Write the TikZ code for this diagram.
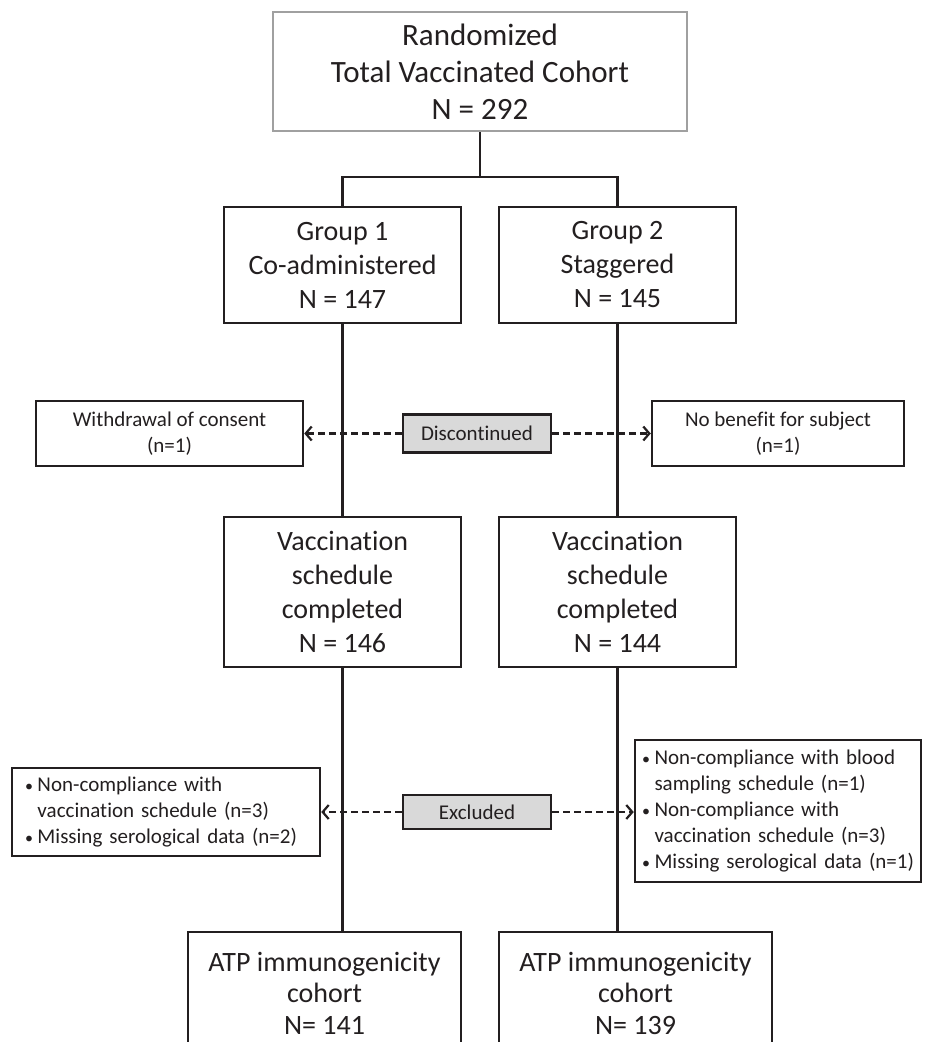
\documentclass[tikz,border=0pt]{standalone}
\usepackage{fontspec}
\setmainfont{Carlito}[Ligatures=NoCommon]
\usetikzlibrary{arrows.meta}
\definecolor{txt}{HTML}{231F20}
\definecolor{edge}{HTML}{231F20}
\definecolor{grayedge}{HTML}{A0A0A0}
\definecolor{labfill}{HTML}{D9D9D9}
\tikzset{
  box/.style={draw=edge, line width=2.5pt, fill=white, text=txt, align=center, inner sep=0pt},
  bigtext/.style={font=\fontsize{28}{34}\selectfont},
  smalltext/.style={font=\fontsize{21}{26}\selectfont},
  label/.style={box, fill=labfill, smalltext},
  link/.style={draw=edge, line width=2.2pt},
  dasharrow/.style={draw=edge, line width=2.4pt, dash pattern=on 7pt off 4pt, -{Straight Barb[length=6pt,width=14pt,line width=2.2pt]}},
}
\newcommand{\bul}{\makebox[12.5pt][l]{{\fontsize{16}{16}\selectfont •}}}
\newcommand{\indt}{\hspace*{12.5pt}}
\begin{document}
\begin{tikzpicture}[x=1pt,y=-1pt]
\useasboundingbox (0,0) rectangle (926,1042);
\clip (0,0) rectangle (926,1042);
% top
\node[box, draw=grayedge, line width=2.5pt, font=\fontsize{31}{37}\selectfont, minimum width=414, minimum height=119] (top) at (480,71.5) {Randomized\\Total Vaccinated Cohort\\N = 292};
% groups
\node[box, bigtext, minimum width=237, minimum height=116] (g1) at (342.5,265) {Group 1\\Co-administered\\N = 147};
\node[box, bigtext, minimum width=237, minimum height=116] (g2) at (617.5,265) {Group 2\\Staggered\\N = 145};
% completed
\node[box, bigtext, minimum width=237, minimum height=150] (c1) at (342.5,592) {Vaccination\\schedule\\completed\\N = 146};
\node[box, bigtext, minimum width=237, minimum height=150] (c2) at (617.5,592) {Vaccination\\schedule\\completed\\N = 144};
% ATP
\node[box, font=\fontsize{28}{31.5}\selectfont, minimum width=273, minimum height=122] (a1) at (324.5,993) {ATP immunogenicity\\cohort\\N= 141};
\node[box, font=\fontsize{28}{31.5}\selectfont, minimum width=273, minimum height=122] (a2) at (635.5,993) {ATP immunogenicity\\cohort\\N= 139};
% connectors
\coordinate (bj) at (480,177);
\draw[link] (top.south) -- (bj);
\draw[link] (g1.north) |- (bj) -| (g2.north);
\draw[link] (g1.south) -- (c1.north);
\draw[link] (g2.south) -- (c2.north);
\draw[link] (c1.south) -- (c1.south |- a1.north);
\draw[link] (c2.south) -- (c2.south |- a2.north);
% discontinued row
\node[box, smalltext, minimum width=267, minimum height=65] (wd) at (169.5,433.5) {Withdrawal of consent\\(n=1)};
\node[box, smalltext, minimum width=252, minimum height=65] (nb) at (778,433.5) {No benefit for subject\\(n=1)};
\node[label, minimum width=148, minimum height=38] (disc) at (477,433.5) {Discontinued};
\draw[dasharrow] (disc.west) -- (wd.east);
\draw[dasharrow] (disc.east) -- (nb.west);
% excluded row
\node[box, smalltext, align=left, minimum width=308, minimum height=88, text width=282] (el) at (166,812) {\bul Non-compliance with\\\indt vaccination schedule (n=3)\\\bul Missing serological data (n=2)};
\node[box, smalltext, align=left, minimum width=286, minimum height=142, text width=272] (er) at (778,811) {\bul Non-compliance with blood\\\indt sampling schedule (n=1)\\\bul Non-compliance with\\\indt vaccination schedule (n=3)\\\bul Missing serological data (n=1)};
\node[label, minimum width=148, minimum height=34] (excl) at (477,812) {Excluded};
\draw[dasharrow] (excl.west) -- (excl.west -| el.east);
\draw[dasharrow] (excl.east) -- (excl.east -| er.west);
\end{tikzpicture}
\end{document}
